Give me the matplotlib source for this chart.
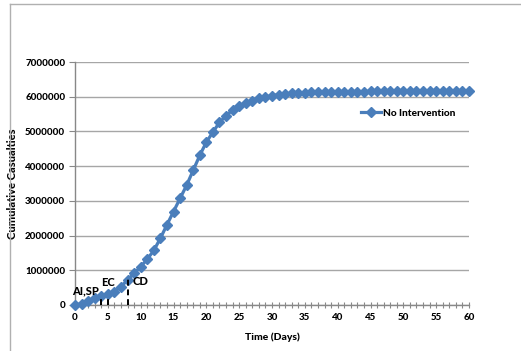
import matplotlib
matplotlib.use("Agg")
import matplotlib.pyplot as plt
from matplotlib.lines import Line2D

days = list(range(0, 61))
casualties = [
    0, 30000, 124000, 192000, 259000, 316000, 383000, 527000, 719000, 911000,
    1100000, 1320000, 1570000, 1920000, 2310000, 2690000, 3070000, 3450000, 3880000, 4310000,
    4690000, 4980000, 5260000, 5450000, 5620000, 5730000, 5810000, 5880000, 5950000, 5990000,
    6030000, 6060000, 6080000, 6100000, 6110000, 6120000, 6125000, 6130000, 6135000, 6140000,
    6142000, 6144000, 6146000, 6148000, 6150000, 6151000, 6152000, 6153000, 6154000, 6155000,
    6156000, 6157000, 6158000, 6158000, 6159000, 6159000, 6160000, 6160000, 6160000, 6160000,
    6160000,
]
series_name = "No Intervention"
x_ticks = list(range(0, 61, 5))
y_ticks = list(range(0, 7000001, 1000000))
event_labels = ["AI,SP", "EC", "CD"]
event_days = [4, 5, 8]
event_heights = [230000, 260000, 750000]

blue = "#4A7EBB"
font = "Lato"

fig = plt.figure(figsize=(5.21, 3.51), dpi=100)
ax = fig.add_axes([75/521, 1-305/351, (469-75)/521, (305-62)/351])

# outer chart frame (partial, as in reference)
fig.add_artist(Line2D([10/521, 1.0], [1-4/351, 1-4/351], transform=fig.transFigure, color="#B0B0B0", lw=1))
fig.add_artist(Line2D([10/521, 10/521], [0, 1-4/351], transform=fig.transFigure, color="#B0B0B0", lw=1))

ax.plot(days, casualties, color=blue, lw=2.3, marker="D", markersize=5.2,
        markerfacecolor=blue, markeredgecolor=blue, label=series_name, zorder=3, clip_on=False)

for d, h in zip(event_days, event_heights):
    ax.plot([d, d], [0, h], color="black", lw=1.4, ls=(0, (3, 2)), zorder=4)

ax.text(1.6, 400000, event_labels[0], fontsize=8, fontweight="black", family=font, ha="center", va="center", zorder=5)
ax.text(5.1, 650000, event_labels[1], fontsize=8, fontweight="black", family=font, ha="center", va="center", zorder=5)
ax.text(8.8, 670000, event_labels[2], fontsize=8, fontweight="black", family=font, ha="left", va="center", zorder=5)

ax.set_xlim(0, 60)
ax.set_ylim(0, 7000000)
ax.set_xticks(x_ticks)
ax.set_xticks(range(0, 61), minor=True)
ax.set_yticks(y_ticks)
ax.set_yticklabels([str(v) for v in y_ticks])
ax.grid(axis="y", color="#A6A6A6", lw=1)
ax.set_axisbelow(True)

for s in ["top", "right"]:
    ax.spines[s].set_visible(False)
for s in ["left", "bottom"]:
    ax.spines[s].set_color("#888888")
    ax.spines[s].set_linewidth(1)

ax.tick_params(axis="x", which="both", direction="inout", color="#888888", length=4, width=0.8, pad=4)
ax.tick_params(axis="y", direction="out", color="#888888", length=4, width=0.8, pad=3)
for lbl in ax.get_xticklabels() + ax.get_yticklabels():
    lbl.set_fontsize(7)
    lbl.set_fontweight("black")
    lbl.set_family(font)

ax.set_xlabel("Time (Days)", fontsize=7.5, fontweight="black", family=font, labelpad=7)
ax.set_ylabel("Cumulative Casualties", fontsize=8, fontweight="black", family=font)
ax.yaxis.set_label_coords((18 - 75) / 394, 0.5)

leg = ax.legend(loc="center left", bbox_to_anchor=(356/521, 1-113/351), bbox_transform=fig.transFigure,
                frameon=False, handlelength=2.0, handletextpad=0.2, borderpad=0,
                prop={"family": font, "weight": "black", "size": 7.3})

fig.savefig("out.png", dpi=100)
